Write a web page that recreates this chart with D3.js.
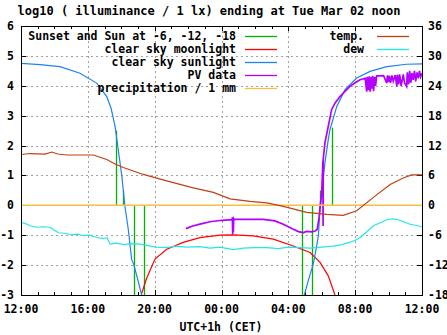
<!DOCTYPE html>
<html><head><meta charset="utf-8">
<script src="https://cdn.jsdelivr.net/npm/d3@7"></script>
<style>body{margin:0;background:#fff}svg{display:block}text{font-family:"DejaVu Sans Mono",monospace;font-weight:bold;fill:#000}</style>
</head><body><svg id="c" width="447" height="335"></svg>
<script>
// ---- data (hours after Mon 12:00) ----
const titleText = "log10 ( illuminance / 1 lx) ending at Tue Mar 02 noon";
const xLabel = "UTC+1h (CET)";
const xTickHours = [0,4,8,12,16,20,24];
const xTickLabels = ["12:00","16:00","20:00","00:00","04:00","08:00","12:00"];
const yTicks = [-3,-2,-1,0,1,2,3,4,5,6];
const y2Ticks = [-18,-12,-6,0,6,12,18,24,30,36];

// sunset and sun at -6, -12, -18 (impulses from 0)
const sunEventHours = [5.66, 6.12, 6.78, 7.38, 16.83, 17.43, 17.9, 18.6];
const sunEventVals  = [2.5, 0.5, -3.5, -3.5, -3.5, -3.5, 0.5, 2.6];

const moonHours = [7.16, 7.22, 7.52, 8.02, 8.72, 9.71, 10.71, 11.91, 12.71, 13.9, 15.1, 16.3, 17.3, 17.9, 18.39, 18.79, 18.85];
const moonVals  = [-3.2, -2.95, -2.44, -1.8, -1.47, -1.24, -1.08, -1.0, -0.99, -1.02, -1.13, -1.36, -1.58, -1.91, -2.36, -3.0, -3.2];

const sunHours = [0, 1.14, 2.33, 3.53, 4.53, 5.13, 5.39, 5.63, 5.81, 6.03, 6.22, 6.42, 6.62, 6.76, 6.93, 7.22, 7.4,
                  16.7, 16.96, 17.2, 17.5, 17.7, 17.8, 17.9, 18.19, 18.39, 18.49, 18.9, 19.39, 20.09, 20.89, 21.89, 23.08, 24];
const sunVals  = [4.75, 4.71, 4.64, 4.42, 4.09, 3.64, 3.25, 2.64, 1.9, 1.0, -0.03, -0.8, -1.8, -2.0, -2.36, -3.0, -3.5,
                  -3.5, -3.0, -2.5, -1.95, -1.35, -1.0, -0.1, 1.42, 2.2, 2.53, 3.31, 3.87, 4.26, 4.48, 4.64, 4.72, 4.73];

const pvHours = [9.87, 10.23, 10.71, 11.31, 12.03, 12.63, 12.65, 12.67, 12.69, 12.71, 12.73, 12.75, 13.5, 14.5, 15.2, 15.7, 16.3, 16.6, 16.9, 17.1, 17.4, 17.6, 17.73, 17.84,
                 17.9, 18.0, 18.07, 18.08, 18.09, 18.19, 18.39, 18.59, 18.79, 19.09, 19.39, 19.69, 20.0, 20.29, 20.6,
                 20.69, 20.72, 20.8, 20.84, 20.9, 20.96, 21.0, 21.05, 21.1, 21.17, 21.22, 21.29, 21.5, 21.7,
                 21.89, 21.93, 22.0, 22.05, 22.12, 22.2, 22.28, 22.4, 22.49, 22.53, 22.6, 22.66, 22.75, 22.88, 22.95,
                 23.08, 23.12, 23.2, 23.26, 23.33, 23.4, 23.47, 23.55, 23.62, 23.7, 23.78, 23.85, 23.92, 24];
const pvVals  = [-0.78, -0.7, -0.63, -0.55, -0.5, -0.48, -0.4, -0.97, -0.42, -0.9, -0.45, -0.47, -0.47, -0.47, -0.52, -0.63, -0.8, -0.88, -0.91, -0.87, -0.89, -0.86, -0.8, -0.4,
                 -0.05, 0.45, 1.5, -0.69, 1.55, 2.09, 2.64, 3.2, 3.42, 3.64, 3.81, 3.98, 4.1, 4.2, 4.25,
                 3.8, 4.3, 3.85, 4.32, 3.8, 4.3, 3.9, 4.33, 3.82, 4.3, 4.0, 4.33, 4.33, 4.34,
                 4.09, 4.35, 4.12, 4.34, 4.1, 4.35, 4.15, 4.36, 3.98, 4.37, 4.05, 4.38, 4.0, 4.38, 4.1,
                 3.98, 4.45, 4.05, 4.5, 4.1, 4.42, 4.2, 4.5, 4.15, 4.45, 4.25, 4.5, 4.3, 4.42];

const precipHours = [0, 24];
const precipVals  = [0, 0];

// temperature and dew point in deg C (right axis)
const tempHours = [0, 0.54, 1.44, 1.84, 2.2, 2.74, 4.33, 5.13, 5.63, 6.12, 7.32, 8.72, 10.31, 11.51, 12.51, 13.71, 14.71, 15.7, 17.1, 18.3, 19.29, 20.09, 21.09, 22.09, 22.88, 23.38, 24];
const tempVals  = [10.2, 10.4, 10.3, 10.7, 10.3, 10.1, 10.1, 9.2, 8.3, 7.6, 6.2, 4.9, 3.5, 2.6, 1.3, 0.8, 0.5, -0.2, -1.4, -1.8, -2.0, -1.1, 1.6, 4.2, 5.5, 6.1, 6.1];

const dewHours = [0, 0.3, 0.54, 0.94, 1.3, 1.74, 2.0, 2.23, 2.6, 3.0, 3.4, 3.73, 4.1, 4.5, 4.93, 5.15, 5.33, 5.7, 6.2, 6.6, 7.12, 7.6, 8.1, 8.72, 9.3, 9.9, 10.71, 11.3, 11.9, 12.71, 13.3, 14.0, 14.71, 15.4, 16.0, 16.7, 17.3, 18.0, 18.69, 19.2, 19.69, 20.0, 20.29, 20.7, 21.09, 21.5, 21.89, 22.2, 22.49, 22.9, 23.28, 23.6, 24];
const dewVals  = [-3.4, -3.7, -4.1, -4.4, -4.3, -4.4, -5.0, -5.5, -5.6, -5.9, -5.8, -6.1, -6.0, -6.4, -6.7, -6.5, -7.8, -7.6, -7.9, -7.7, -7.8, -8.1, -8.4, -8.5, -8.2, -8.4, -8.3, -8.6, -8.4, -8.9, -8.6, -8.5, -8.5, -8.7, -8.4, -8.5, -8.6, -8.4, -8.2, -7.9, -7.4, -7.0, -6.5, -5.3, -4.1, -3.5, -2.9, -2.7, -2.8, -3.3, -3.8, -4.0, -4.3];

const legendLeft = [
  {label:"Sunset and Sun at -6, -12, -18", color:"#00b400"},
  {label:"clear sky moonlight", color:"#ff0000"},
  {label:"clear sky sunlight", color:"#1e82f0"},
  {label:"PV data", color:"#b400ff"},
  {label:"precipitation / 1 mm", color:"#f8c040"}
];
const legendRight = [
  {label:"temp.", color:"#c04010"},
  {label:"dew", color:"#20e8e8"}
];

// ---- drawing ----
const svg = d3.select("#c");
const L = 21, R = 422, T = 26, B = 295;
const x = d3.scaleLinear().domain([0,24]).range([L,R]);
const y = d3.scaleLinear().domain([-3,6]).range([B,T]);
const y2 = d3.scaleLinear().domain([-18,36]).range([B,T]);

svg.append("defs").append("clipPath").attr("id","clip")
  .append("rect").attr("x",L).attr("y",T).attr("width",R-L).attr("height",B-T);

// grid
const grid = svg.append("g").attr("stroke","#a0a0a0").attr("stroke-dasharray","2,3").attr("shape-rendering","crispEdges");
xTickHours.slice(1,-1).forEach(h=>{
  grid.append("line").attr("x1",Math.round(x(h))+0.5).attr("x2",Math.round(x(h))+0.5).attr("y1",T).attr("y2",B);
});
yTicks.slice(1,-1).forEach(v=>{
  grid.append("line").attr("x1",L).attr("x2",R).attr("y1",Math.round(y(v))+0.5).attr("y2",Math.round(y(v))+0.5);
});

// axes ticks
const tk = svg.append("g").attr("stroke","#000").attr("shape-rendering","crispEdges");
d3.range(0,25,1).forEach(h=>{
  const len = (h%4===0)?5:3;
  const px = Math.round(x(h))+0.5;
  tk.append("line").attr("x1",px).attr("x2",px).attr("y1",B).attr("y2",B-len);
  tk.append("line").attr("x1",px).attr("x2",px).attr("y1",T).attr("y2",T+len);
});
yTicks.forEach(v=>{
  const py = Math.round(y(v))+0.5;
  tk.append("line").attr("x1",L).attr("x2",L+5).attr("y1",py).attr("y2",py);
});
y2Ticks.forEach(v=>{
  const py = Math.round(y2(v))+0.5;
  tk.append("line").attr("x1",R-5).attr("x2",R).attr("y1",py).attr("y2",py);
});

// series
const plot = svg.append("g").attr("clip-path","url(#clip)");
const mk = (hs, vs) => hs.map((h,i)=>[h, vs[i]]);
const lineL = d3.line().x(d=>x(d[0])).y(d=>y(d[1]));
const lineR = d3.line().x(d=>x(d[0])).y(d=>y2(d[1]));

// sunset impulses
sunEventHours.forEach((h,i)=>{
  const px = Math.round(x(h))+0.5;
  plot.append("line").attr("x1",px).attr("x2",px).attr("y1",y(0)).attr("y2",y(sunEventVals[i]))
    .attr("stroke",legendLeft[0].color).attr("stroke-width",1.3);
});
plot.append("path").datum(mk(moonHours,moonVals)).attr("d",lineL).attr("fill","none").attr("stroke",legendLeft[1].color).attr("stroke-width",1.2);
plot.append("path").datum(mk(sunHours.slice(0,17),sunVals.slice(0,17))).attr("d",lineL).attr("fill","none").attr("stroke",legendLeft[2].color).attr("stroke-width",1.2);
plot.append("path").datum(mk(sunHours.slice(17),sunVals.slice(17))).attr("d",lineL).attr("fill","none").attr("stroke",legendLeft[2].color).attr("stroke-width",1.2);
plot.append("path").datum(mk(pvHours,pvVals)).attr("d",lineL).attr("fill","none").attr("stroke",legendLeft[3].color).attr("stroke-width",1.7);
plot.append("path").datum(mk(precipHours,precipVals)).attr("d",lineL).attr("fill","none").attr("stroke",legendLeft[4].color).attr("stroke-width",1.5);
plot.append("path").datum(mk(tempHours,tempVals)).attr("d",lineR).attr("fill","none").attr("stroke",legendRight[0].color).attr("stroke-width",1.2);
plot.append("path").datum(mk(dewHours,dewVals)).attr("d",lineR).attr("fill","none").attr("stroke",legendRight[1].color).attr("stroke-width",1.2);

// border
svg.append("rect").attr("x",L+0.5).attr("y",T+0.5).attr("width",R-L).attr("height",B-T)
  .attr("fill","none").attr("stroke","#000").attr("shape-rendering","crispEdges");

// tick labels
const fs = "11.5px";
yTicks.forEach(v=>{
  svg.append("text").attr("x",14).attr("y",y(v)).attr("text-anchor","end").attr("dominant-baseline","central").style("font-size",fs).text(v);
});
y2Ticks.forEach(v=>{
  svg.append("text").attr("x",428).attr("y",y2(v)).attr("text-anchor","start").attr("dominant-baseline","central").style("font-size",fs).text(v);
});
xTickHours.forEach((h,i)=>{
  svg.append("text").attr("x",x(h)).attr("y",313).attr("text-anchor","middle").style("font-size",fs).text(xTickLabels[i]);
});
svg.append("text").attr("x",221).attr("y",331).attr("text-anchor","middle").style("font-size",fs).text(xLabel);
svg.append("text").attr("x",209).attr("y",15).attr("text-anchor","middle").style("font-size","12px").text(titleText);

// legend
const rowY = i => 35.5 + i*13.2;
legendLeft.forEach((d,i)=>{
  svg.append("text").attr("x",236).attr("y",rowY(i)).attr("text-anchor","end").attr("dominant-baseline","central").style("font-size",fs).text(d.label);
  svg.append("line").attr("x1",245).attr("x2",277).attr("y1",Math.round(rowY(i))+0.5).attr("y2",Math.round(rowY(i))+0.5).attr("stroke",d.color).attr("stroke-width",1.3);
});
legendRight.forEach((d,i)=>{
  svg.append("text").attr("x",364).attr("y",rowY(i)).attr("text-anchor","end").attr("dominant-baseline","central").style("font-size",fs).text(d.label);
  svg.append("line").attr("x1",377).attr("x2",409).attr("y1",Math.round(rowY(i))+0.5).attr("y2",Math.round(rowY(i))+0.5).attr("stroke",d.color).attr("stroke-width",1.3);
});
</script></body></html>
